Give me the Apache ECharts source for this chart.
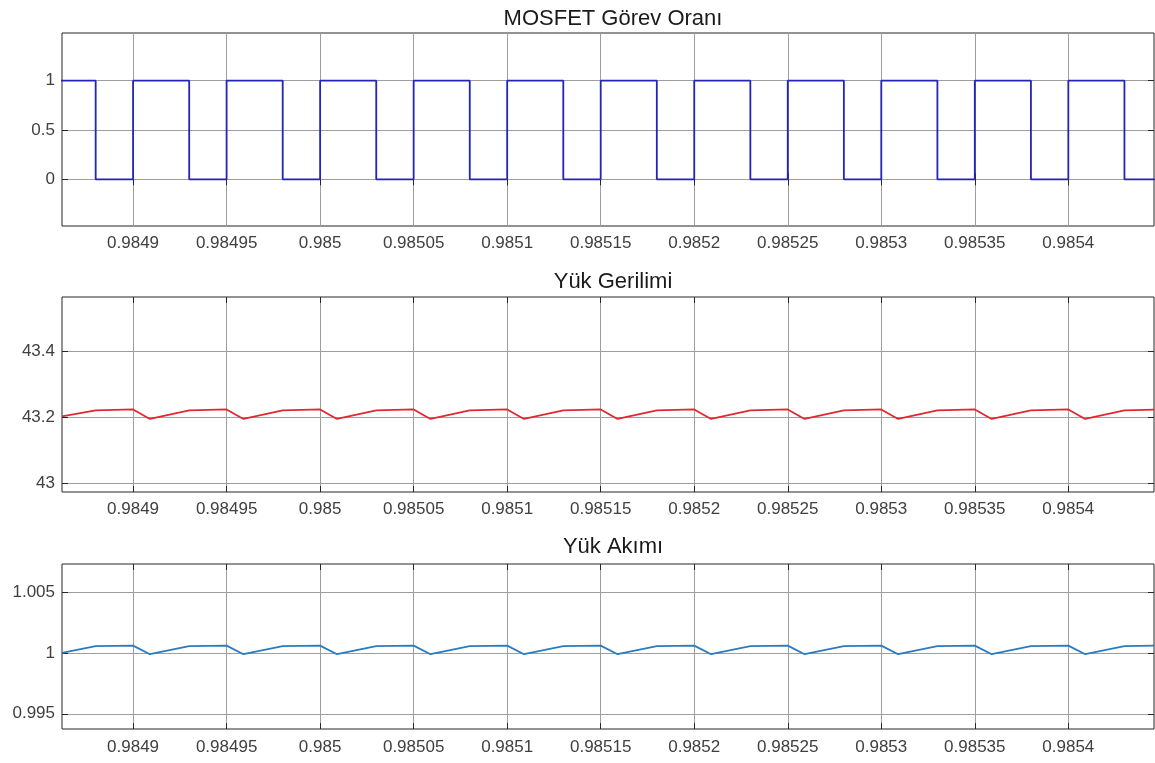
<!DOCTYPE html>
<html>
<head>
<meta charset="utf-8">
<style>
  html, body { margin: 0; padding: 0; background: #fff; }
  #chart { width: 1155px; height: 763px; }
</style>
<script src="https://cdn.jsdelivr.net/npm/echarts@6/dist/echarts.min.js"></script>
</head>
<body>
<div id="chart"></div>
<script>
// zaman ekseni (s)
const xTicks = [0.9849, 0.98495, 0.985, 0.98505, 0.9851, 0.98515, 0.9852, 0.98525, 0.9853, 0.98535, 0.9854];

// MOSFET görev oranı: kenar zamanları ve seviyeler
const pwmTime = [0.98485, 0.98488, 0.9849, 0.98493, 0.98495, 0.98498, 0.985, 0.98503, 0.98505, 0.98508,
  0.9851, 0.98513, 0.98515, 0.98518, 0.9852, 0.98523, 0.98525, 0.98528, 0.9853, 0.98533,
  0.98535, 0.98538, 0.9854, 0.98543, 0.98546];
const pwmLevel = [1, 0, 1, 0, 1, 0, 1, 0, 1, 0, 1, 0, 1, 0, 1, 0, 1, 0, 1, 0, 1, 0, 1, 0, 0];

// örnek zamanları (gerilim ve akım)
const sampleTime = [0.984862,
  0.98488, 0.9849, 0.984909, 0.98493, 0.98495, 0.984959, 0.98498, 0.985, 0.985009,
  0.98503, 0.98505, 0.985059, 0.98508, 0.9851, 0.985109, 0.98513, 0.98515, 0.985159,
  0.98518, 0.9852, 0.985209, 0.98523, 0.98525, 0.985259, 0.98528, 0.9853, 0.985309,
  0.98533, 0.98535, 0.985359, 0.98538, 0.9854, 0.985409, 0.98543, 0.985446];

const voltage = [43.203,
  43.221, 43.224, 43.195, 43.221, 43.224, 43.195, 43.221, 43.224, 43.195,
  43.221, 43.224, 43.195, 43.221, 43.224, 43.195, 43.221, 43.224, 43.195,
  43.221, 43.224, 43.195, 43.221, 43.224, 43.195, 43.221, 43.224, 43.195,
  43.221, 43.224, 43.195, 43.221, 43.224, 43.195, 43.221, 43.2235];

const current = [1.0,
  1.00055, 1.0006, 0.99989, 1.00055, 1.0006, 0.99989, 1.00055, 1.0006, 0.99989,
  1.00055, 1.0006, 0.99989, 1.00055, 1.0006, 0.99989, 1.00055, 1.0006, 0.99989,
  1.00055, 1.0006, 0.99989, 1.00055, 1.0006, 0.99989, 1.00055, 1.0006, 0.99989,
  1.00055, 1.0006, 0.99989, 1.00055, 1.0006, 0.99989, 1.00055, 1.0006];

const dutyTicks = [0, 0.5, 1];
const voltageTicks = [43, 43.2, 43.4];
const currentTicks = [0.995, 1, 1.005];

const titles = ['MOSFET Görev Oranı', 'Yük Gerilimi', 'Yük Akımı'];

const FONT = 'Liberation Sans, Arial, sans-serif';
const X_MIN = 0.984862, X_MAX = 0.9854458;

const panels = [
  { top: 33, height: 193, yMin: -0.474, yMax: 1.484, ticks: dutyTicks, titleTop: 3, labelMargin: 9 },
  { top: 297, height: 195, yMin: 42.972, yMax: 43.567, ticks: voltageTicks, titleTop: 266, labelMargin: 9 },
  { top: 564, height: 165, yMin: 0.99375, yMax: 1.0073, ticks: currentTicks, titleTop: 531, labelMargin: 10 },
];

const fmt = v => String(parseFloat(v.toFixed(6)));
const tickStyle = { show: true, inside: true, length: 6, lineStyle: { color: '#262626', width: 1 } };

const grid = [], xAxis = [], yAxis = [], title = [];
panels.forEach((p, i) => {
  grid.push({ left: 62, top: p.top, width: 1092, height: p.height, show: true,
    borderColor: '#262626', borderWidth: 1, backgroundColor: '#fff' });
  title.push({ text: titles[i], left: 608, top: p.titleTop, textAlign: 'center',
    textStyle: { fontFamily: FONT, fontSize: 22, fontWeight: 'normal', color: '#1a1a1a' } });
  // alt ve üst x eksenleri
  xAxis.push({ type: 'value', gridIndex: i, position: 'bottom', min: X_MIN, max: X_MAX,
    axisLine: { show: false },
    axisTick: Object.assign({ customValues: xTicks }, tickStyle),
    axisLabel: { customValues: xTicks, formatter: fmt, margin: p.labelMargin,
      fontFamily: FONT, fontSize: 17, color: '#404040' },
    splitLine: { show: true, lineStyle: { color: '#9e9e9e', width: 1 } } });
  xAxis.push({ type: 'value', gridIndex: i, position: 'top', min: X_MIN, max: X_MAX,
    axisLine: { show: false },
    axisTick: Object.assign({ customValues: xTicks }, tickStyle),
    axisLabel: { show: false }, splitLine: { show: false } });
  // sol ve sağ y eksenleri
  yAxis.push({ type: 'value', gridIndex: i, position: 'left', min: p.yMin, max: p.yMax,
    axisLine: { show: false },
    axisTick: Object.assign({ customValues: p.ticks }, tickStyle),
    axisLabel: { customValues: p.ticks, formatter: fmt, margin: 7,
      fontFamily: FONT, fontSize: 17, color: '#404040' },
    splitLine: { show: true, lineStyle: { color: '#9e9e9e', width: 1 } } });
  yAxis.push({ type: 'value', gridIndex: i, position: 'right', min: p.yMin, max: p.yMax,
    axisLine: { show: false },
    axisTick: Object.assign({ customValues: p.ticks }, tickStyle),
    axisLabel: { show: false }, splitLine: { show: false } });
});

const chart = echarts.init(document.getElementById('chart'));
chart.setOption({
  animation: false,
  title,
  grid,
  xAxis,
  yAxis,
  series: [
    { type: 'line', xAxisIndex: 0, yAxisIndex: 0, step: 'end', showSymbol: false,
      lineStyle: { color: '#2424bb', width: 1.8 },
      data: pwmTime.map((t, k) => [t, pwmLevel[k]]) },
    { type: 'line', xAxisIndex: 2, yAxisIndex: 2, showSymbol: false,
      lineStyle: { color: '#e0282e', width: 1.8 },
      data: sampleTime.map((t, k) => [t, voltage[k]]) },
    { type: 'line', xAxisIndex: 4, yAxisIndex: 4, showSymbol: false,
      lineStyle: { color: '#2a7bbf', width: 1.8 },
      data: sampleTime.map((t, k) => [t, current[k]]) },
  ],
});
window.addEventListener('resize', () => chart.resize());
</script>
</body>
</html>
